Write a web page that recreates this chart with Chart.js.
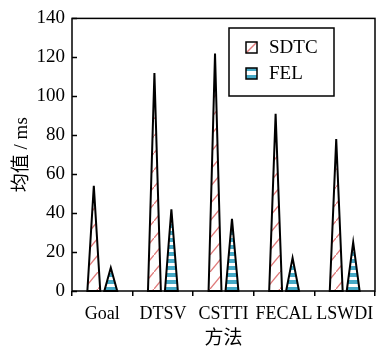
<!DOCTYPE html>
<html>
<head>
<meta charset="utf-8">
<script src="https://cdn.jsdelivr.net/npm/chart.js@4/dist/chart.umd.min.js"></script>
<style>
    html, body { margin: 0; padding: 0; background: #fff; }
    #wrap { width: 387px; height: 350px; }
</style>
</head>
<body>
<div id="wrap"><canvas id="chart"></canvas></div>
<script>
// ============================================================
// DATA
// ============================================================
const categories = ['Goal', 'DTSV', 'CSTTI', 'FECAL', 'LSWDI'];
const seriesNames = ['SDTC', 'FEL'];
const sdtcValues = [54, 112, 122, 91, 78];
const felValues = [12, 42, 37, 17, 25];
const yTickStep = 20;
const yMax = 140;

const FONT = '"Liberation Serif", "Times New Roman", "Noto Sans CJK SC", serif';

// ============================================================
// PATTERNS
// ============================================================
function makeHatch() {
    const c = document.createElement('canvas');
    c.width = 14; c.height = 17;
    const g = c.getContext('2d');
    g.strokeStyle = '#e07a7a';
    g.lineWidth = 1.4;
    g.beginPath();
    g.moveTo(-2, 19.4); g.lineTo(16, -2.4);
    g.stroke();
    return g.createPattern(c, 'repeat');
}

function makeStripes() {
    const c = document.createElement('canvas');
    c.width = 4; c.height = 7;
    const g = c.getContext('2d');
    g.fillStyle = '#fff';
    g.fillRect(0, 0, 4, 7);
    g.fillStyle = '#45a9c6';
    g.fillRect(0, 0, 4, 4);
    return g.createPattern(c, 'repeat');
}

const patterns = [makeHatch(), makeStripes()];

// ============================================================
// PLUGINS
// ============================================================
const trianglePlugin = {
    id: 'triangles',
    afterDatasetsDraw(chart) {
        const ctx = chart.ctx;
        chart.data.datasets.forEach((ds, i) => {
            const meta = chart.getDatasetMeta(i);
            meta.data.forEach(bar => {
                const { x, y, base, width } = bar.getProps(['x', 'y', 'base', 'width'], true);
                ctx.save();
                ctx.beginPath();
                ctx.moveTo(x - width / 2, base);
                ctx.lineTo(x, y);
                ctx.lineTo(x + width / 2, base);
                ctx.closePath();
                ctx.fillStyle = '#fff';
                ctx.fill();
                ctx.fillStyle = patterns[i];
                ctx.fill();
                ctx.lineWidth = 2;
                ctx.strokeStyle = '#000';
                ctx.stroke();
                ctx.restore();
            });
        });
    }
};

const framePlugin = {
    id: 'frame',
    afterDraw(chart) {
        const { ctx, chartArea: a, scales } = chart;
        ctx.save();
        ctx.strokeStyle = '#000';
        ctx.lineWidth = 1.5;
        ctx.strokeRect(a.left, a.top, a.right - a.left, a.bottom - a.top);
        // inward y ticks
        scales.y.ticks.forEach(t => {
            const py = Math.round(scales.y.getPixelForValue(t.value)) + 0.5;
            ctx.beginPath();
            ctx.moveTo(a.left, py);
            ctx.lineTo(a.left + 5, py);
            ctx.stroke();
        });

        // legend box
        const lx = 229, ly = 28, lw = 105, lh = 68;
        ctx.lineWidth = 1.5;
        ctx.strokeRect(lx, ly, lw, lh);
        ctx.font = '19px ' + FONT;
        ctx.fillStyle = '#000';
        ctx.textBaseline = 'middle';
        chart.data.datasets.forEach((ds, i) => {
            const sy = 42 + i * 26;
            ctx.fillStyle = '#fff';
            ctx.fillRect(246, sy, 11, 11);
            if (i === 0) {
                ctx.strokeStyle = '#e07a7a';
                ctx.lineWidth = 1.4;
                ctx.beginPath();
                ctx.moveTo(246, sy + 11);
                ctx.lineTo(257, sy);
                ctx.stroke();
            } else {
                ctx.fillStyle = '#45a9c6';
                ctx.fillRect(246, sy, 11, 3);
                ctx.fillRect(246, sy + 7, 11, 4);
            }
            ctx.strokeStyle = '#000';
            ctx.lineWidth = 1.5;
            ctx.strokeRect(246, sy, 11, 11);
            ctx.fillStyle = '#000';
            ctx.fillText(ds.label, 269, sy + 6);
        });
        ctx.restore();
    }
};

// ============================================================
// CHART
// ============================================================
Chart.defaults.font.family = FONT;
Chart.defaults.font.size = 19;
Chart.defaults.color = '#000';

new Chart(document.getElementById('chart'), {
    type: 'bar',
    data: {
        labels: categories,
        datasets: [{
            label: seriesNames[0],
            data: sdtcValues,
            backgroundColor: 'transparent',
            borderWidth: 0
        }, {
            label: seriesNames[1],
            data: felValues,
            backgroundColor: 'transparent',
            borderWidth: 0
        }]
    },
    options: {
        responsive: true,
        maintainAspectRatio: false,
        animation: false,
        events: [],
        categoryPercentage: 0.56,
        barPercentage: 0.76,
        layout: { padding: { top: 14, right: 12, left: 0, bottom: 0 } },
        plugins: {
            legend: { display: false },
            tooltip: { enabled: false }
        },
        scales: {
            x: {
                offset: true,
                grid: { offset: true, drawOnChartArea: false, drawTicks: true, tickLength: 5, color: '#000', lineWidth: 1.5 },
                border: { display: false },
                ticks: { padding: 7, maxRotation: 0, autoSkip: false, font: { size: 18 } },
                title: { display: true, text: '方法', font: { size: 19, lineHeight: 1 }, padding: { top: 0, bottom: 1 } },
                afterFit(scale) { scale.height = 59; }
            },
            y: {
                min: 0,
                max: yMax,
                grid: { display: false, drawTicks: false },
                border: { display: false },
                ticks: { stepSize: yTickStep, padding: 7, font: { size: 19 } },
                title: { display: true, text: '均值 / ms', font: { size: 19, lineHeight: 1 }, padding: { top: 13, bottom: 0 } },
                afterFit(scale) { scale.width = 72; }
            }
        }
    },
    plugins: [trianglePlugin, framePlugin]
});
</script>
</body>
</html>
